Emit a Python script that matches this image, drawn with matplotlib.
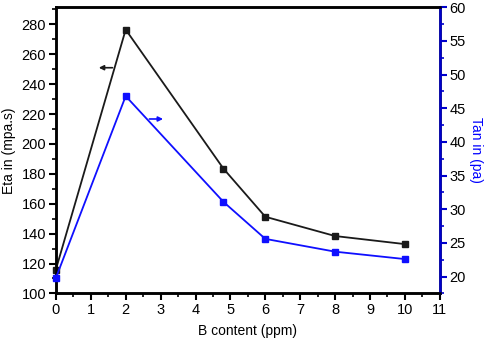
import matplotlib
matplotlib.use("Agg")
import matplotlib.pyplot as plt
from matplotlib.ticker import MultipleLocator

plt.rcParams["font.family"] = ["Liberation Sans", "DejaVu Sans"]

b_content = [0, 2, 4.8, 6, 8, 10]
eta = [116, 276.5, 183.5, 151.3, 138.4, 133]
tan = [19.8, 46.8, 31.1, 25.6, 23.7, 22.6]

fig = plt.figure(figsize=(4.86, 3.42), dpi=100)
ax = fig.add_axes([0.115, 0.142, 0.79, 0.837])
ax2 = ax.twinx()

ax.plot(b_content, eta, color="#1a1a1a", lw=1.3, marker="s", ms=5, clip_on=False, zorder=3)
ax2.plot(b_content, tan, color="#0f0fff", lw=1.3, marker="s", ms=5, clip_on=False, zorder=3)

ax.set_xlim(0, 11)
ax.set_ylim(100, 291.5)
ax2.set_ylim(17.5, 60)

ax.xaxis.set_major_locator(MultipleLocator(1))
ax.xaxis.set_minor_locator(MultipleLocator(0.5))
ax.yaxis.set_major_locator(MultipleLocator(20))
ax.yaxis.set_minor_locator(MultipleLocator(10))
ax2.yaxis.set_major_locator(MultipleLocator(5))
ax2.yaxis.set_minor_locator(MultipleLocator(2.5))

for a in (ax, ax2):
    for s in a.spines.values():
        s.set_linewidth(1.8)
ax2.spines["right"].set_color("#0000cc")

ax.tick_params(which="major", direction="out", length=5, width=1.5, labelsize=10.5, pad=2, top=False)
ax.tick_params(which="minor", direction="out", length=3, width=1.2, top=False)
ax2.tick_params(which="major", direction="out", length=5, width=1.5, labelsize=10.5, pad=2, color="#0000cc")
ax2.tick_params(which="minor", direction="out", length=3, width=1.2, color="#0000cc")

ax.set_xlabel("B content (ppm)", fontsize=10, labelpad=5)
ax.set_ylabel("Eta in (mpa.s)", fontsize=10, labelpad=4)
ax2.set_ylabel("Tan in (pa)", fontsize=10, color="#0000ff", rotation=270, labelpad=12)

ax.annotate("", xy=(1.15, 251), xytext=(1.7, 251),
            arrowprops=dict(arrowstyle="-|>", color="#1a1a1a", lw=1.2, mutation_scale=7))
ax2.annotate("", xy=(3.15, 43.4), xytext=(2.6, 43.4),
             arrowprops=dict(arrowstyle="-|>", color="#0f0fff", lw=1.2, mutation_scale=7))

fig.savefig("out.png", dpi=100)
